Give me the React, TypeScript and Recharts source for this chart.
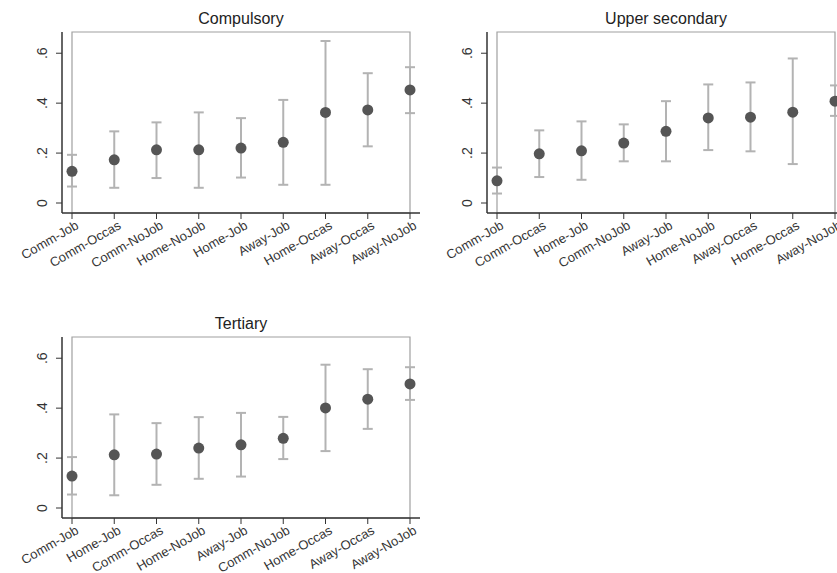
import { ComposedChart, Line, ErrorBar, XAxis, YAxis, ReferenceArea } from 'recharts'

const compulsoryCats = ['Comm-Job', 'Comm-Occas', 'Comm-NoJob', 'Home-NoJob', 'Home-Job', 'Away-Job', 'Home-Occas', 'Away-Occas', 'Away-NoJob']
const compulsoryEst = [0.127, 0.173, 0.213, 0.213, 0.22, 0.243, 0.363, 0.373, 0.453]
const compulsoryLo = [0.066, 0.061, 0.1, 0.061, 0.102, 0.073, 0.073, 0.227, 0.36]
const compulsoryHi = [0.193, 0.287, 0.323, 0.363, 0.34, 0.413, 0.649, 0.52, 0.544]

const upperCats = ['Comm-Job', 'Comm-Occas', 'Home-Job', 'Comm-NoJob', 'Away-Job', 'Home-NoJob', 'Away-Occas', 'Home-Occas', 'Away-NoJob']
const upperEst = [0.089, 0.197, 0.209, 0.24, 0.287, 0.341, 0.344, 0.364, 0.408]
const upperLo = [0.038, 0.104, 0.093, 0.167, 0.167, 0.212, 0.207, 0.156, 0.349]
const upperHi = [0.142, 0.291, 0.327, 0.315, 0.408, 0.475, 0.483, 0.579, 0.471]

const tertiaryCats = ['Comm-Job', 'Home-Job', 'Comm-Occas', 'Home-NoJob', 'Away-Job', 'Comm-NoJob', 'Home-Occas', 'Away-Occas', 'Away-NoJob']
const tertiaryEst = [0.128, 0.213, 0.216, 0.24, 0.253, 0.279, 0.401, 0.436, 0.497]
const tertiaryLo = [0.054, 0.051, 0.093, 0.117, 0.126, 0.196, 0.228, 0.317, 0.433]
const tertiaryHi = [0.204, 0.375, 0.34, 0.364, 0.381, 0.365, 0.574, 0.556, 0.564]

const yTicks = [0, 0.2, 0.4, 0.6]
const yDomain = [-0.04, 0.685]

const FONT = '"Liberation Sans", Arial, sans-serif'

// stata-style slanted category labels, right end hangs under the tick
const XTick = ({ x, y, payload }: any) => (
  <text
    x={x + 3}
    y={y}
    transform={`rotate(-30 ${x + 3} ${y})`}
    textAnchor="end"
    dy="0.7em"
    fontSize={13}
    fontFamily={FONT}
    fill="#333"
  >
    {payload.value}
  </text>
)

const YTick = ({ x, y, payload }: any) => (
  <text
    x={x}
    y={y}
    transform={`rotate(-90 ${x} ${y})`}
    textAnchor="middle"
    fontSize={14}
    fontFamily={FONT}
    fill="#333"
  >
    {payload.value === 0 ? '0' : String(payload.value).replace(/^0/, '')}
  </text>
)

function Panel({ title, cats, est, lo, hi, left, top }: any) {
  const data = cats.map((c: string, i: number) => ({ cat: c, est: est[i], lo: lo[i], hi: hi[i] }))
  return (
    <>
      <div style={{
        position: 'absolute', left: left + 62, top: top + 11, width: 358, textAlign: 'center',
        fontFamily: FONT, fontSize: 16, lineHeight: '16px', color: '#222'
      }}>{title}</div>
      <div style={{ position: 'absolute', left, top }}>
        <ComposedChart width={430} height={290} data={data} margin={{ top: 32, right: 10, left: 0, bottom: 17 }}>
          <ReferenceArea y1={yDomain[0]} y2={yDomain[1]} fill="none" stroke="#a0a0a0" strokeWidth={1.2} ifOverflow="visible" />
          <XAxis
            dataKey="cat"
            scale="point"
            padding={{ left: 10, right: 10 }}
            interval={0}
            height={60}
            tickSize={6}
            tickMargin={1}
            tick={<XTick />}
            axisLine={{ stroke: '#333', strokeWidth: 1.5 }}
            tickLine={{ stroke: '#333', strokeWidth: 1 }}
          />
          <YAxis
            type="number"
            domain={yDomain}
            ticks={yTicks}
            width={62}
            tickSize={6}
            tickMargin={9}
            tick={<YTick />}
            allowDataOverflow
            axisLine={{ stroke: '#333', strokeWidth: 1.5 }}
            tickLine={{ stroke: '#333', strokeWidth: 1 }}
          />
          <Line
            dataKey="est"
            stroke="none"
            isAnimationActive={false}
            dot={{ r: 5.5, fill: '#555', stroke: 'none' }}
            activeDot={false}
          >
            <ErrorBar
              dataKey={(d: any) => [d.est - d.lo, d.hi - d.est]}
              direction="y"
              width={5}
              stroke="#b3b3b3"
              strokeWidth={2}
              isAnimationActive={false}
            />
          </Line>
        </ComposedChart>
      </div>
    </>
  )
}

export default function App() {
  return (
    <div style={{ position: 'absolute', left: 0, top: 0, width: 837, height: 573, overflow: 'hidden', background: '#fff' }}>
      <Panel title="Compulsory" cats={compulsoryCats} est={compulsoryEst} lo={compulsoryLo} hi={compulsoryHi} left={0} top={0} />
      <Panel title="Upper secondary" cats={upperCats} est={upperEst} lo={upperLo} hi={upperHi} left={425} top={0} />
      <Panel title="Tertiary" cats={tertiaryCats} est={tertiaryEst} lo={tertiaryLo} hi={tertiaryHi} left={0} top={305} />
    </div>
  )
}
